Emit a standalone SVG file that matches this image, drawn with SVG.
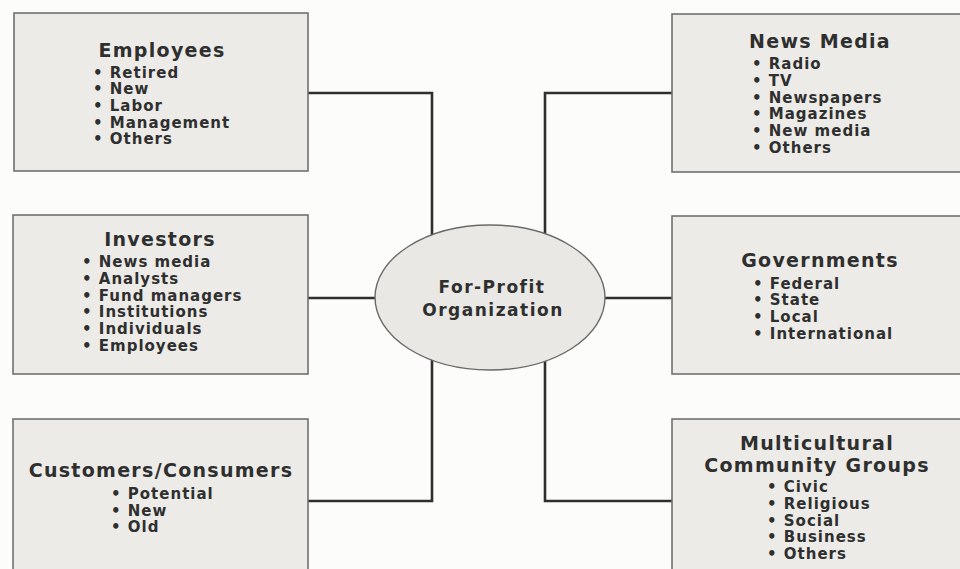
<svg xmlns="http://www.w3.org/2000/svg" width="960" height="569" viewBox="0 0 960 569">
<style>
.bg{fill:#fcfcfa}
.box{fill:#ecebe8;stroke:#707070;stroke-width:1.6}
.hub{fill:#e9e8e5;stroke:#6a6a6a;stroke-width:1.4}
.con{fill:none;stroke:#2f2f2f;stroke-width:2.6}
text{font-family:"DejaVu Sans","Liberation Sans",sans-serif;font-weight:bold;fill:#2f2f2f}
.t{font-size:19px;letter-spacing:1.3px;text-anchor:middle}
.i{font-size:15px;letter-spacing:1px}
.h{font-size:17px;letter-spacing:1.5px;text-anchor:middle}
</style>
<rect class="bg" x="0" y="0" width="960" height="569"/>
<g id="connectors">
<path class="con" d="M308,93 H432 V240"/>
<path class="con" d="M308,298 H385"/>
<path class="con" d="M308,501 H432 V355"/>
<path class="con" d="M672,93 H545 V240"/>
<path class="con" d="M672,298 H595"/>
<path class="con" d="M672,501 H545 V355"/>
</g>
<g id="employees">
<rect class="box" x="14" y="13" width="294" height="158"/>
<text class="t" x="162" y="57">Employees</text>
<text class="i" x="93" y="77.7">• Retired</text>
<text class="i" x="93" y="94.3">• New</text>
<text class="i" x="93" y="111">• Labor</text>
<text class="i" x="93" y="127.7">• Management</text>
<text class="i" x="93" y="144.3">• Others</text>
</g>
<g id="investors">
<rect class="box" x="13" y="215" width="295" height="159"/>
<text class="t" x="160" y="245.7">Investors</text>
<text class="i" x="82" y="267.3">• News media</text>
<text class="i" x="82" y="284">• Analysts</text>
<text class="i" x="82" y="300.7">• Fund managers</text>
<text class="i" x="82" y="317.3">• Institutions</text>
<text class="i" x="82" y="334">• Individuals</text>
<text class="i" x="82" y="350.7">• Employees</text>
</g>
<g id="customers">
<rect class="box" x="13" y="419" width="295" height="160"/>
<text class="t" x="161" y="477.3">Customers/Consumers</text>
<text class="i" x="111" y="499">• Potential</text>
<text class="i" x="111" y="515.7">• New</text>
<text class="i" x="111" y="532.3">• Old</text>
</g>
<g id="news-media">
<rect class="box" x="672" y="14" width="300" height="158"/>
<text class="t" x="820" y="48.3">News Media</text>
<text class="i" x="752" y="69.3">• Radio</text>
<text class="i" x="752" y="86">• TV</text>
<text class="i" x="752" y="102.7">• Newspapers</text>
<text class="i" x="752" y="119.3">• Magazines</text>
<text class="i" x="752" y="136">• New media</text>
<text class="i" x="752" y="152.7">• Others</text>
</g>
<g id="governments">
<rect class="box" x="672" y="216" width="300" height="158"/>
<text class="t" x="820" y="266.7">Governments</text>
<text class="i" x="753" y="288.7">• Federal</text>
<text class="i" x="753" y="305.3">• State</text>
<text class="i" x="753" y="322">• Local</text>
<text class="i" x="753" y="338.7">• International</text>
</g>
<g id="multicultural">
<rect class="box" x="672" y="419" width="300" height="160"/>
<text class="t" x="817" y="450">Multicultural</text>
<text class="t" x="817" y="472.3">Community Groups</text>
<text class="i" x="767" y="492.3">• Civic</text>
<text class="i" x="767" y="509">• Religious</text>
<text class="i" x="767" y="525.7">• Social</text>
<text class="i" x="767" y="542.3">• Business</text>
<text class="i" x="767" y="559">• Others</text>
</g>
<g id="for-profit">
<ellipse class="hub" cx="490" cy="297.5" rx="115" ry="72.5"/>
<text class="h" x="492" y="292.7">For-Profit</text>
<text class="h" x="493" y="315.5">Organization</text>
</g>
</svg>
